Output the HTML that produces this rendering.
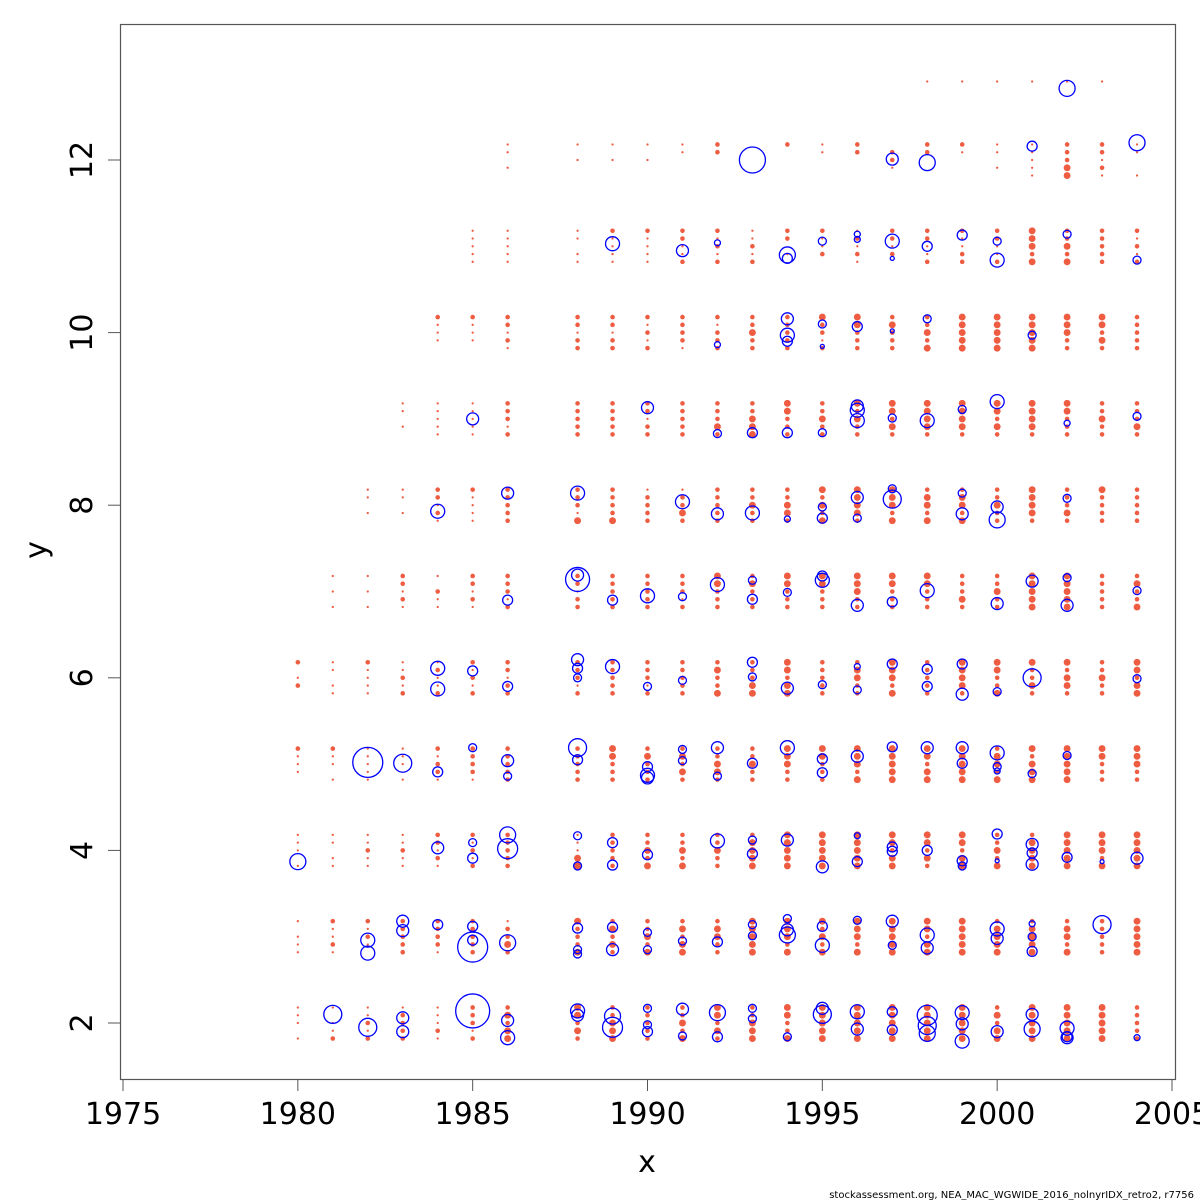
<!DOCTYPE html>
<html><head><meta charset="utf-8"><style>
html,body{margin:0;padding:0;background:#fff}
svg{display:block;font-family:"DejaVu Sans","Liberation Sans",sans-serif}
</style></head><body>
<svg id="chart" width="1200" height="1200" viewBox="0 0 1200 1200" xmlns="http://www.w3.org/2000/svg">
<rect x="0" y="0" width="1200" height="1200" fill="#fff"/>
<g id="plot"></g>
<rect x="120.5" y="24.5" width="1055" height="1055" fill="none" stroke="#555" stroke-width="1.2"/>
<g id="xaxis"></g>
<g id="yaxis"></g>
<text x="647" y="1172" font-size="30" text-anchor="middle">x</text>
<text x="46" y="550" font-size="30" text-anchor="middle" transform="rotate(-90 46 550)">y</text>
<text x="1194" y="1198" font-size="10" text-anchor="end">stockassessment.org, NEA_MAC_WGWIDE_2016_nolnyrIDX_retro2, r7756</text>
</svg>
<script>
const xTicks = [1975,1980,1985,1990,1995,2000,2005];
const yTicks = [2,4,6,8,10,12];
// red (filled) bubble sizes: per year, per age from 2 upward, five points top->bottom
const redOffsets = [0.18,0.09,0,-0.09,-0.18];
const redYears = [1980,1981,1982,1983,1984,1985,1986,1988,1989,1990,1991,1992,1993,1994,1995,1996,1997,1998,1999,2000,2001,2002,2003,2004];
const redCells = [
 ["11101","10111","11101","21110","20120"],
 ["10112","21121","11011","21101","11011","10101"],
 ["11212","21210","11211","11111","21111","10101","11010"],
 ["12222","22222","11211","11101","11212","22121","11010","11010"],
 ["11121","22221","22121","21221","12112","10211","22121","11111","21110"],
 ["22212","22222","21212","22221","21212","22121","21111","11111","21110","11111"],
 ["23233","12232","22222","22222","22122","22212","22222","22212","22121","11111","11010"],
 ["33232","32223","11133","22222","22212","22122","22213","22222","22122","11011","10100"],
 ["22333","23232","22222","33222","22222","22222","22223","22222","22122","21111","10100"],
 ["22222","22323","22323","23222","22212","22222","12222","22122","21212","21111","10100"],
 ["22323","23233","22323","23232","22222","22212","12232","22222","22221","22112","11000"],
 ["33232","23322","22322","22332","23223","33222","22222","22232","21222","21212","22000"],
 ["22333","33333","23333","22322","22233","23222","22322","22333","22322","11212","00000"],
 ["33223","33323","33333","33322","33233","33222","22332","33222","22222","22010","20000"],
 ["33333","32323","33333","33222","22222","33222","32323","22322","32212","21120","11000"],
 ["33333","33323","33333","33323","23322","33322","33332","32322","33222","12121","22000"],
 ["33333","33333","33233","33333","33323","33222","33323","33232","23222","22120","02210"],
 ["33333","33233","33232","33233","22222","33222","23323","33332","22323","22112","22000","00010"],
 ["33333","33333","33233","33333","33332","22232","23323","33332","33333","21122","21000","00010"],
 ["23233","23333","22323","23323","33223","22322","22322","33232","33333","22112","11010","00010"],
 ["33333","23333","23333","32333","32232","33333","33332","33332","33333","33323","11111","00010"],
 ["33333","23323","33333","33333","32332","33333","22232","33222","33322","22323","22233","00010"],
 ["33333","22222","33323","33222","22322","22222","32222","22322","33232","22222","22121","00010"],
 ["22222","33333","33333","33322","33233","23223","22222","22232","22222","21212","11001","00000"]
];
// blue (open) bubbles grouped by year
const blueYears = [1980,1981,1982,1983,1984,1985,1986,1988,1989,1990,1991,1992,1993,1994,1995,1996,1997,1998,1999,2000,2001,2002,2003,2004];
const blueValues = [
 [3.87],
 [2.10],
 [1.95,2.81,2.96,5.02],
 [1.90,2.06,3.07,3.18,5.01],
 [3.14,4.03,4.91,5.87,6.11,7.93],
 [2.14,2.88,2.96,3.12,3.91,4.09,5.19,6.08,9.0],
 [1.83,2.03,2.93,4.02,4.18,4.86,5.04,5.9,6.9,8.14],
 [2.14,2.09,2.8,2.85,3.1,3.82,4.17,5.05,5.19,6.0,6.11,6.21,7.14,7.19,8.14],
 [1.95,2.08,2.85,3.11,3.83,4.09,6.13,6.9,11.03],
 [1.9,1.98,2.17,2.85,3.05,3.95,4.84,4.87,4.97,5.9,6.95,9.13],
 [2.16,1.85,2.95,5.04,5.17,5.97,6.94,8.04,10.95],
 [2.12,1.84,2.94,4.11,4.86,5.19,7.08,7.9,8.83,11.04,9.86],
 [12.0,2.05,2.17,3.01,3.14,3.96,4.12,5.01,6.01,6.18,6.91,7.13,7.91,8.84],
 [1.84,3.02,3.08,3.21,4.12,5.19,5.88,6.99,7.84,8.84,10.16,9.97,9.9,10.9,10.86],
 [2.1,2.17,2.9,3.12,3.81,4.9,5.06,5.92,7.13,7.18,7.85,7.98,8.84,9.84,10.1,11.06],
 [2.13,1.93,3.19,3.87,4.17,5.09,5.86,6.13,6.84,7.85,8.09,8.98,9.1,9.15,10.07,11.08,11.14],
 [1.92,2.13,2.9,3.18,3.99,4.04,5.2,6.16,6.88,8.07,8.19,9.01,10.02,11.06,10.86,12.01],
 [2.09,1.97,1.88,3.02,2.87,4.0,5.19,5.9,6.1,7.01,8.98,10.16,11.0,11.97],
 [2.12,1.99,1.79,3.88,3.82,5.19,5.01,5.81,6.16,7.9,8.14,9.11,11.13],
 [1.9,3.09,2.98,4.19,3.88,5.13,4.97,4.92,5.84,6.86,7.83,7.98,9.2,10.84,11.06],
 [1.93,2.1,2.83,3.0,3.15,3.84,3.97,4.07,4.89,6.0,7.12,9.97,12.16],
 [1.94,1.84,1.83,3.92,5.1,6.84,7.16,8.08,8.95,11.14,12.83],
 [3.14,3.87],
 [1.83,3.91,5.99,7.01,9.03,10.84,12.2]
];
const blueRadii = [
 [8],
 [9],
 [9,7,7,15],
 [6,6,6,6,9],
 [5,6,5,7,7,7],
 [17,15,5,5,5,4,4,5,6],
 [7,6,8,10,8,4,6,5,5,6],
 [7,6,4,4,5,4,4,5,9,4,5,6,12,6,7],
 [10,8,6,5,5,5,7,5,7],
 [5,4,4,4,4,5,6,7,5,4,7,6],
 [6,4,4,4,4,4,4,7,6],
 [8,5,5,7,4,6,7,6,4,3,3],
 [13,4,4,4,4,5,4,5,4,5,5,4,7,5],
 [4,8,6,4,6,7,6,4,3,5,6,7,5,8,5],
 [9,6,7,5,6,5,5,4,7,5,5,4,4,2,4,4],
 [7,6,4,5,3,6,4,3,6,4,6,7,7,6,5,3,3],
 [5,5,4,6,5,5,5,5,5,9,4,4,2,7,2,6],
 [10,9,8,7,6,5,6,5,5,7,7,4,5,8],
 [7,6,7,5,4,6,5,6,5,6,4,4,5],
 [6,7,6,5,2,7,4,3,4,6,8,6,7,7,4],
 [8,6,5,4,3,6,5,6,4,9,6,4,5],
 [7,5,6,5,4,6,4,4,3,4,8],
 [9,2],
 [3,6,4,4,4,4,8]
];

const NS='http://www.w3.org/2000/svg';
function xs(v){return 123 + (v-1975)*(1172-123)/30;}
function ys(v){return 1023 - (v-2)*(1023-160)/10;}
const plot=document.getElementById('plot');
redYears.forEach((yr,i)=>{
  redCells[i].forEach((cell,a)=>{
    const age=2+a;
    for(let k=0;k<cell.length;k++){
      const s=+cell[k]; if(!s) continue;
      const c=document.createElementNS(NS,'circle');
      
      
      c.setAttribute('cx',xs(yr)); c.setAttribute('cy',ys(age+redOffsets[k]));
      c.setAttribute('r',s*1.15); c.setAttribute('fill','#EE5C42');
      plot.appendChild(c);
    }
  });
});
blueYears.forEach((yr,i)=>{
  blueValues[i].forEach((v,j)=>{
    const c=document.createElementNS(NS,'circle');
    
    
    c.setAttribute('cx',xs(yr)); c.setAttribute('cy',ys(v));
    c.setAttribute('r',blueRadii[i][j]); c.setAttribute('fill','none');
    c.setAttribute('stroke','#0000FF'); c.setAttribute('stroke-width','1.3');
    plot.appendChild(c);
  });
});
const xa=document.getElementById('xaxis');
const xl=document.createElementNS(NS,'line');


xl.setAttribute('x1',xs(1975)); xl.setAttribute('x2',xs(2005)); xl.setAttribute('y1',1079.5); xl.setAttribute('y2',1079.5); xl.setAttribute('stroke','#555');
xa.appendChild(xl);
xTicks.forEach(t=>{
  const l=document.createElementNS(NS,'line');
  
  
  l.setAttribute('x1',xs(t)); l.setAttribute('x2',xs(t)); l.setAttribute('y1',1079); l.setAttribute('y2',1091); l.setAttribute('stroke','#555');
  xa.appendChild(l);
  const tx=document.createElementNS(NS,'text');
  
  
  tx.setAttribute('x',xs(t)); tx.setAttribute('y',1124); tx.setAttribute('font-size','30'); tx.setAttribute('text-anchor','middle');
  tx.textContent=t; xa.appendChild(tx);
});
const ya=document.getElementById('yaxis');
const yl=document.createElementNS(NS,'line');


yl.setAttribute('x1',120.5); yl.setAttribute('x2',120.5); yl.setAttribute('y1',ys(2)); yl.setAttribute('y2',ys(12)); yl.setAttribute('stroke','#555');
ya.appendChild(yl);
yTicks.forEach(t=>{
  const l=document.createElementNS(NS,'line');
  
  
  l.setAttribute('x1',108); l.setAttribute('x2',120); l.setAttribute('y1',ys(t)); l.setAttribute('y2',ys(t)); l.setAttribute('stroke','#555');
  ya.appendChild(l);
  const tx=document.createElementNS(NS,'text');
  
  
  const y=ys(t);
  tx.setAttribute('x',92); tx.setAttribute('y',y); tx.setAttribute('font-size','30'); tx.setAttribute('text-anchor','middle');
  tx.setAttribute('transform','rotate(-90 92 '+y+')');
  tx.textContent=t; ya.appendChild(tx);
});
</script>
</body></html>
